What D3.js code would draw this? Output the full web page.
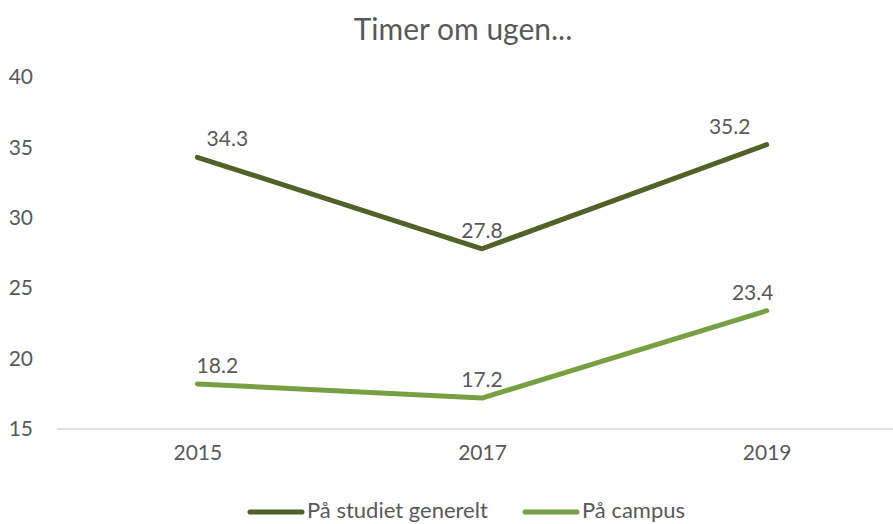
<!DOCTYPE html>
<html>
<head>
<meta charset="utf-8">
<script src="https://cdn.jsdelivr.net/npm/d3@7"></script>
<style>
  html, body { margin: 0; padding: 0; background: #fff; }
  svg { display: block; }
  text { font-family: Lato, "Open Sans", sans-serif; fill: #595959; }
</style>
</head>
<body>
<svg id="chart" width="893" height="524"></svg>
<script>
const title = "Timer om ugen...";
const categories = ["2015", "2017", "2019"];
const seriesNames = ["På studiet generelt", "På campus"];
const generelt = [34.3, 27.8, 35.2];
const campus = [18.2, 17.2, 23.4];
const yTicks = [15, 20, 25, 30, 35, 40];
const colors = ["#4f6228", "#77a043"];

(function () {
const series = [
  { name: seriesNames[0], values: generelt, color: colors[0], labelDx: [30, 0, -37] },
  { name: seriesNames[1], values: campus, color: colors[1], labelDx: [20, 0, -14] }
];

const svg = d3.select("#chart");
const W = 893;
const mLeft = 55, mRight = 909, mTop = 77, mBottom = 429;

const x = d3.scalePoint().domain(categories).range([mLeft, mRight]).padding(0.5);
const y = d3.scaleLinear().domain([15, 40]).range([mBottom, mTop]);

svg.append("text")
  .attr("x", 463).attr("y", 40)
  .attr("text-anchor", "middle")
  .style("font-size", "30px")
  .text(title);

const yAxis = d3.axisLeft(y).tickValues(yTicks).tickSize(0).tickPadding(0);
const gy = svg.append("g").attr("transform", "translate(33,0)").call(yAxis);
gy.select(".domain").remove();
gy.selectAll("text").style("font-size", "21px").style("font-family", "Lato, sans-serif").attr("fill", "#595959");

const xAxis = d3.axisBottom(x).tickSize(0).tickPadding(16);
const gx = svg.append("g").attr("transform", `translate(0,${mBottom})`).call(xAxis);
gx.select(".domain").attr("stroke", "#d9d9d9").attr("stroke-width", 1.5)
  .attr("d", `M${mLeft + 2},0H${W}`);
gx.selectAll("text").style("font-size", "21px").style("font-family", "Lato, sans-serif").attr("fill", "#595959");

const line = d3.line().x((d, i) => x(categories[i])).y(d => y(d));
series.forEach(s => {
  svg.append("path")
    .datum(s.values)
    .attr("d", line)
    .attr("fill", "none")
    .attr("stroke", s.color)
    .attr("stroke-width", 5)
    .attr("stroke-linecap", "round")
    .attr("stroke-linejoin", "round");
  svg.append("g").selectAll("text")
    .data(s.values)
    .join("text")
    .attr("x", (d, i) => x(categories[i]) + s.labelDx[i])
    .attr("y", d => y(d) - 11)
    .attr("text-anchor", "middle")
    .style("font-size", "21px")
    .text(d => d.toFixed(1));
});

const legendItems = [
  { name: seriesNames[0], color: colors[0], x0: 248 },
  { name: seriesNames[1], color: colors[1], x0: 523 }
];
const lg = svg.append("g");
legendItems.forEach(it => {
  lg.append("line")
    .attr("x1", it.x0 + 2).attr("x2", it.x0 + 54)
    .attr("y1", 512).attr("y2", 512)
    .attr("stroke", it.color).attr("stroke-width", 5).attr("stroke-linecap", "round");
  lg.append("text")
    .attr("x", it.x0 + 59).attr("y", 518)
    .style("font-size", "22px")
    .text(it.name);
});
})();
</script>
</body>
</html>
